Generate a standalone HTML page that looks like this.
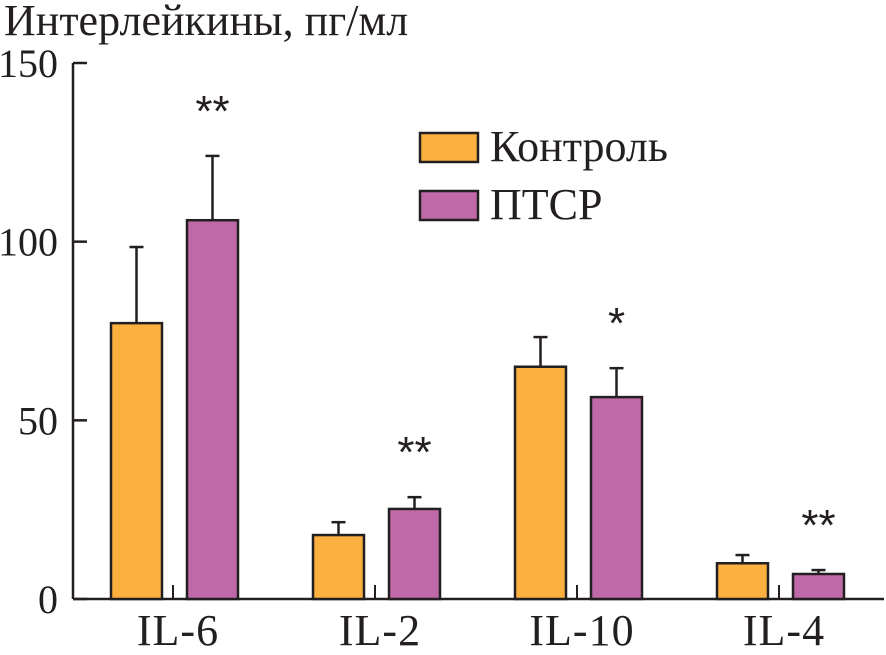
<!DOCTYPE html>
<html><head><meta charset="utf-8"><style>
body{margin:0;background:#fff;}
svg{display:block;font-family:"Liberation Serif",serif;}
</style></head><body>
<svg id="chart" width="886" height="655">
<text x="4" y="35" font-size="44" fill="#231f20">Интерлейкины, пг/мл</text>
<g id="axes"></g>
<g id="bars"></g>
<g>
<rect x="420" y="133" width="58" height="29" fill="#fbb040" stroke="#231f20" stroke-width="2.5"/>
<text x="490" y="161" font-size="44" fill="#231f20">Контроль</text>
<rect x="420" y="191" width="58" height="29" fill="#c069a8" stroke="#231f20" stroke-width="2.5"/>
<text x="490" y="219" font-size="44" fill="#231f20">ПТСР</text>
</g>
</svg>
<script>
const categories=["IL-6","IL-2","IL-10","IL-4"];
const controlValues=[77.2,17.9,65,10];
const controlErrors=[21.3,3.6,8.3,2.3];
const ptsrValues=[106,25.2,56.5,7];
const ptsrErrors=[18,3.3,8.1,1.1];
const significance=["**","**","*","**"];
const yTicks=[0,50,100,150];
const NS="http://www.w3.org/2000/svg";
const x0=73,x1=884,yBase=599,yTop=63,yMax=150;
const y=v=>yBase-(v/yMax)*(yBase-yTop);
const groupW=202,groupStart=73;
const gc=i=>groupStart+100+i*groupW;
function mk(tag,attrs,parent,text){const e=document.createElementNS(NS,tag);for(const k in attrs)e.setAttribute(k,attrs[k]);if(text!==undefined)e.textContent=text;parent.appendChild(e);return e;}
const axes=document.getElementById('axes'),bars=document.getElementById('bars');
const ya=mk('line',{x1:x0,y1:yTop,x2:x0,y2:yBase,stroke:'#231f20','stroke-width':2.5},axes);


yTicks.forEach(t=>{
 const tl=mk('line',{x1:x0,y1:y(t),x2:x0+14,y2:y(t),stroke:'#231f20','stroke-width':2.5},axes);
 
 
 const tx=mk('text',{x:58,y:y(t)+14,'font-size':40,'text-anchor':'end',fill:'#231f20'},axes,String(t));
 
 
});
categories.forEach((c,i)=>{
 const cx=gc(i);
 const tk=mk('line',{x1:cx,y1:yBase-14,x2:cx,y2:yBase,stroke:'#231f20','stroke-width':2},axes);
 
 
 const lb=mk('text',{x:cx+5,y:645,'font-size':44,'text-anchor':'middle',fill:'#231f20','letter-spacing':'1'},axes,c);
 
 
 [[controlValues[i],controlErrors[i],cx-62,'#fbb040','control'],[ptsrValues[i],ptsrErrors[i],cx+14,'#c069a8','ptsr']].forEach(([v,e,bx,col,nm])=>{
  const mid=bx+25.5;
  const el=mk('line',{x1:mid,y1:y(v+e),x2:mid,y2:y(v),stroke:'#231f20','stroke-width':2.5},bars);
  
  
  const cap=mk('line',{x1:mid-7,y1:y(v+e),x2:mid+7,y2:y(v+e),stroke:'#231f20','stroke-width':2.5},bars);
  
  
  const r=mk('rect',{x:bx,y:y(v),width:51,height:yBase-y(v),fill:col,stroke:'#231f20','stroke-width':2.5},bars);
  
  
 });
 const sx=cx+14+25.5;
 const s=mk('text',{x:sx,y:y(ptsrValues[i]+ptsrErrors[i])-30,'font-size':44,'text-anchor':'middle',fill:'#231f20','font-family':'Liberation Sans, sans-serif'},bars,significance[i]);
 
 
});
const xa=mk('line',{x1:x0,y1:yBase,x2:x1,y2:yBase,stroke:'#231f20','stroke-width':2.5},axes);


</script>
</body></html>
